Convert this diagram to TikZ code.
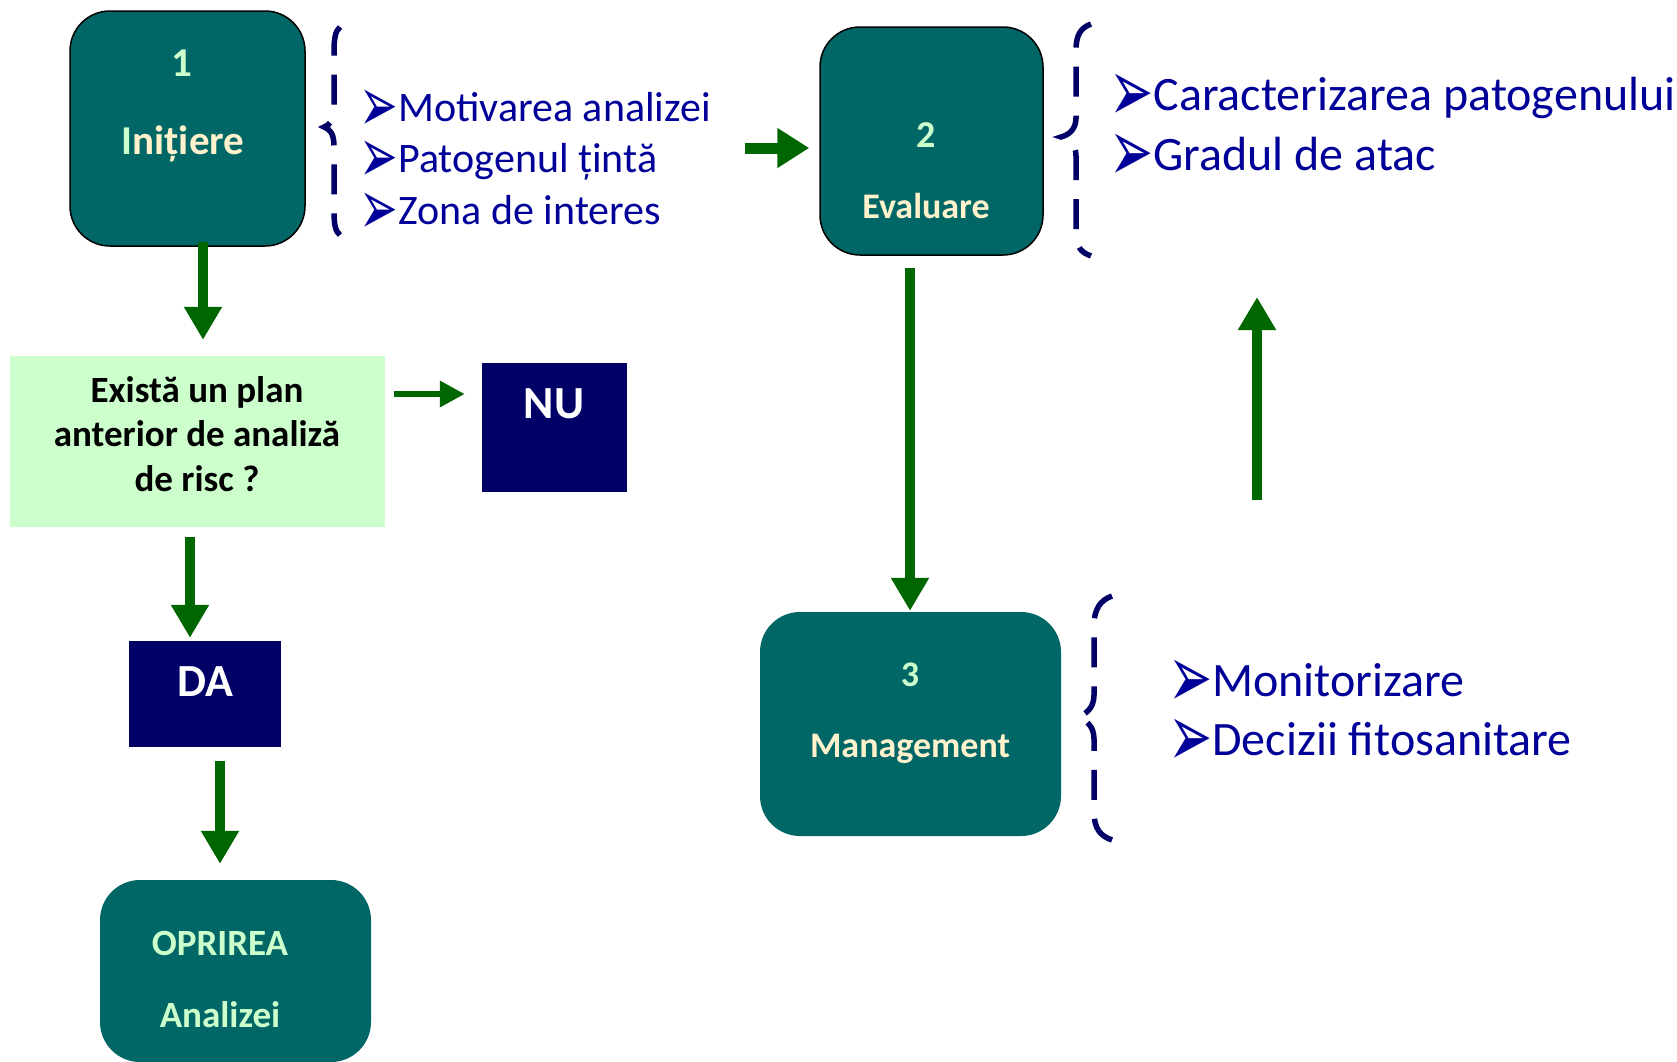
\documentclass[tikz,border=0pt]{standalone}
\usepackage{fontspec}
\setmainfont{Carlito}
\newfontfamily\symf{DejaVu Sans}
\usetikzlibrary{arrows.meta,calc}
\definecolor{teal1}{HTML}{006666}
\definecolor{mint}{HTML}{CCFFCC}
\definecolor{cream}{HTML}{FFF2CC}
\definecolor{navybox}{HTML}{000066}
\definecolor{navytxt}{HTML}{000099}
\definecolor{garr}{HTML}{006600}
\newcommand{\bulletmark}{\smash{\raisebox{-0.24em}{\scalebox{1.1}[1.85]{\symf ➢}}}}
\begin{document}
\begin{tikzpicture}[x=1pt,y=-1pt,
  stagebox/.style={fill=teal1, rounded corners=40pt, inner sep=0pt},
  flatbox/.style={inner sep=0pt},
  lbl/.style={anchor=base, inner sep=0pt},
  fs/.style={font={\fontsize{#1}{#1}\selectfont\bfseries}},
  bul/.style={anchor=base west, inner sep=0pt, text=navytxt, font={\fontsize{#1}{#1}\selectfont}},
  brc/.style={draw=navybox, line width=5.5pt, dash pattern=on 30pt off 19pt},
  garrow/.style={draw=garr, line width=10pt, -{Triangle[length=33pt,width=36pt]}},
  garrowb/.style={draw=garr, line width=11pt, -{Triangle[length=32pt,width=38pt]}},
  garrows/.style={draw=garr, line width=6.4pt, -{Triangle[length=25pt,width=25pt]}}
]
\clip (0,0) rectangle (1677,1061);
\fill[white] (0,0) rectangle (1677,1061);

% boxes
\node[stagebox, draw=black, line width=1.5pt, minimum width=235pt, minimum height=235pt] (n1) at (187.5,128.5) {};
\node[stagebox, draw=black, line width=1.5pt, minimum width=223pt, minimum height=228pt] (n2) at (931.5,141) {};
\node[stagebox, minimum width=301pt, minimum height=224pt] (n3) at (910.5,724) {};
\node[stagebox, minimum width=271pt, minimum height=182pt] (stop) at (235.5,971) {};
\node[flatbox, fill=mint, minimum width=375pt, minimum height=171pt] (q) at (197.5,441.5) {};
\node[flatbox, fill=navybox, minimum width=145pt, minimum height=129pt] (nu) at (554.5,427.5) {};
\node[flatbox, fill=navybox, minimum width=152pt, minimum height=106pt] (da) at (205,694) {};

% box labels
\node[lbl, fs=41, text=mint] (t1) at (182,76) {1};
\node[lbl, fs=41, text=cream] (t1b) at (183,154) {{\color{mint}I}nițiere};
\node[lbl, fs=38, text=mint] (t2) at (926,147) {2};
\node[lbl, fs=36, text=cream] (t2b) at (926,218) {Evaluare};
\node[lbl, fs=36, text=mint] (t3) at (910,686) {3};
\node[lbl, fs=36, text=cream] (t3b) at (910,757) {Management};
\node[lbl, fs=37, text=black] (q1) at (197,402) {Există un plan};
\node[lbl, fs=37, text=black] (q2) at (197,446) {anterior de analiză};
\node[lbl, fs=37, text=black] (q3) at (197,491) {de risc ?};
\node[lbl, fs=46, text=white] (tnu) at (554,418) {NU};
\node[lbl, fs=46, text=white] (tda) at (205,696) {DA};
\node[lbl, fs=37, text=mint] (ts1) at (220,955) {OPRIREA};
\node[lbl, fs=37, text=mint] (ts2) at (220,1027) {Analizei};

% bullet lists
\node[bul=42] (b1a) at (359.5,121) {\bulletmark Motivarea analizei};
\node[bul=42] (b1b) at (359.5,172) {\bulletmark Patogenul țintă};
\node[bul=42] (b1c) at (359.5,224) {\bulletmark Zona de interes};
\node[bul=48] (b2a) at (1109,110) {\bulletmark Caracterizarea patogenului};
\node[bul=48] (b2b) at (1109,170) {\bulletmark Gradul de atac};
\node[bul=48] (b3a) at (1168,696) {\bulletmark Monitorizare};
\node[bul=48] (b3b) at (1168,755) {\bulletmark Decizii fitosanitare};

% braces
\draw[brc] (340,27) .. controls (335,31) and (334,40) .. (334,52) -- (334,108)
  .. controls (334,120) and (330,125) .. (324,127)
  .. controls (330,129) and (334,134) .. (334,146) -- (334,212)
  .. controls (334,226) and (336,232) .. (340,235);
\draw[brc] (1091,24) .. controls (1080,28) and (1076,36) .. (1076,50) -- (1076,118)
  .. controls (1076,130) and (1068,135) .. (1061,137)
  .. controls (1068,139) and (1076,144) .. (1076,156) -- (1076,232)
  .. controls (1076,246) and (1080,252) .. (1091,256);
\draw[brc] (1112,596) .. controls (1100,600) and (1094,610) .. (1094,625) -- (1094,695)
  .. controls (1094,708) and (1086,714) .. (1078,717)
  .. controls (1086,720) and (1094,726) .. (1094,739) -- (1094,812)
  .. controls (1094,828) and (1100,836) .. (1112,840);

% connectors
\coordinate (a5s) at (745,148);
\coordinate (a7s) at (1257,500);
\coordinate (a7e) at (1257,297);
\draw[garrow] ($(n1.south)+(15.5,-5)$) -- ($(q.north)+(5.5,-16)$);
\draw[garrows] ($(q.east)+(9,-47.5)$) -- ($(nu.west)+(-17,-33.5)$);
\draw[garrow] ($(q.south)+(-7.5,10)$) -- ($(da.north)+(-15,-3)$);
\draw[garrow] ($(da.south)+(15,14)$) -- ($(stop.north)+(-15.5,-16)$);
\draw[garrowb] (a5s) -- ($(n2.west)+(-10,7)$);
\draw[garrow] ($(n2.south)+(-21.5,12)$) -- ($(n3.north)+(-0.5,-1)$);
\draw[garrow] (a7s) -- (a7e);
\end{tikzpicture}
\end{document}
